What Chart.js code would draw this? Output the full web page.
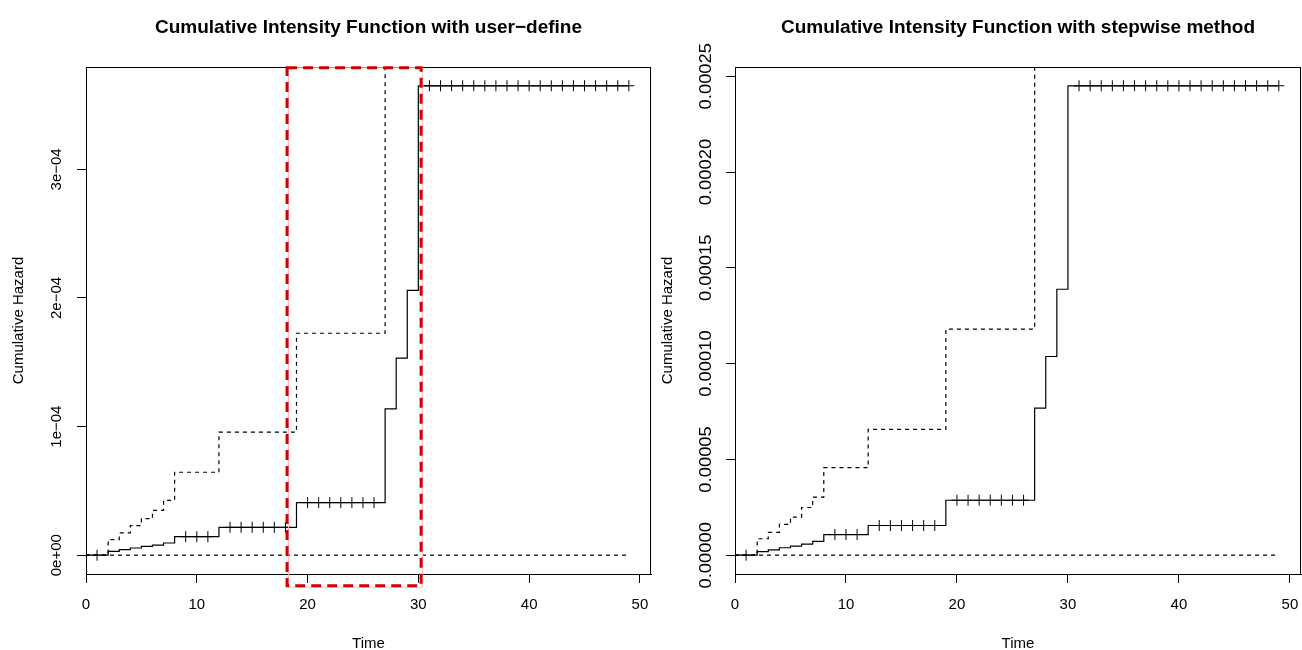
<!DOCTYPE html>
<html>
<head>
<meta charset="utf-8">
<script src="https://cdn.jsdelivr.net/npm/chart.js@4.4.1/dist/chart.umd.min.js"></script>
<style>
  html, body { margin: 0; padding: 0; background: #fff; }
  #wrap { position: relative; width: 1302px; height: 650px; }
  canvas { position: absolute; top: 0; }
</style>
</head>
<body>
<div id="wrap">
  <canvas id="userPanel" width="652" height="650" style="left:0"></canvas>
  <canvas id="stepPanel" width="651" height="650" style="left:651px"></canvas>
</div>
<script>
// ── data ──────────────────────────────────────────────────────
// event times where the estimate jumps (last entry = end of follow-up)
const eventTimes = [0, 2, 3, 4, 5, 6, 7, 8, 12, 19, 27, 28, 29, 30, 49];
const upperTimes = [0, 2, 3, 4, 5, 6, 7, 8, 12, 19, 27];
const lowerTimes = [0, 49];
const censorTimes = [1, 9, 10, 11, 13, 14, 15, 16, 17, 18,
                     20, 21, 22, 23, 24, 25, 26,
                     31, 32, 33, 34, 35, 36, 37, 38, 39, 40,
                     41, 42, 43, 44, 45, 46, 47, 48, 49];

// user-defined intensity
const userEstimate = [0, 3.0e-6, 4.3e-6, 5.6e-6, 6.9e-6, 7.9e-6, 9.5e-6, 1.44e-5,
                      2.17e-5, 4.09e-5, 1.138e-4, 1.532e-4, 2.06e-4, 3.65e-4, 3.65e-4];
const userUpper = [0, 1.21e-5, 1.73e-5, 2.30e-5, 2.84e-5, 3.49e-5, 4.27e-5, 6.45e-5,
                   9.57e-5, 1.726e-4, 6.0e-4];
const userLower = [0, 0];

// stepwise intensity
const stepEstimate = [0, 1.9e-6, 2.8e-6, 3.9e-6, 4.7e-6, 5.8e-6, 7.2e-6, 1.08e-5,
                      1.55e-5, 2.87e-5, 7.68e-5, 1.037e-4, 1.388e-4, 2.45e-4, 2.45e-4];
const stepUpper = [0, 8.6e-6, 1.19e-5, 1.61e-5, 1.99e-5, 2.49e-5, 3.03e-5, 4.57e-5,
                   6.57e-5, 1.18e-4, 4.0e-4];
const stepLower = [0, 0];

const xTicks = [0, 10, 20, 30, 40, 50];
const userYTicks = [0, 1e-4, 2e-4, 3e-4];
const userYLabels = ['0e+00', '1e\u221204', '2e\u221204', '3e\u221204'];
const stepYTicks = [0, 5e-5, 1e-4, 1.5e-4, 2e-4, 2.5e-4];
const stepYLabels = ['0.00000', '0.00005', '0.00010', '0.00015', '0.00020', '0.00025'];

// ── helpers ───────────────────────────────────────────────────
const FONT = '"Liberation Sans", Arial, Helvetica, sans-serif';
Chart.defaults.font.family = FONT;
Chart.defaults.color = '#000';

const pairs = (xs, ys) => xs.map((x, i) => ({ x, y: ys[i] }));

// value of a right-continuous step function at time t
function levelAt(times, values, t) {
  let v = values[0];
  for (let i = 0; i < times.length; i++) if (times[i] <= t) v = values[i];
  return v;
}

// box around the plot region, like R's bty="o"
const boxPlugin = {
  id: 'rBox',
  afterDatasetsDraw(chart) {
    const { ctx, chartArea: a } = chart;
    ctx.save();
    ctx.strokeStyle = '#000';
    ctx.lineWidth = 1;
    const l = Math.round(a.left) + 0.5, t = Math.round(a.top) + 0.5;
    const r = Math.round(a.right) - 0.5, b = Math.round(a.bottom) + 0.5;
    ctx.strokeRect(l, t, r - l, b - t);
    ctx.restore();
  }
};

// y tick labels written parallel to the axis
const yLabelPlugin = {
  id: 'yLabels',
  afterDraw(chart, args, opts) {
    const { ctx } = chart;
    const y = chart.scales.y;
    ctx.save();
    ctx.font = opts.size + 'px ' + FONT;
    ctx.fillStyle = '#000';
    ctx.textAlign = 'center';
    ctx.textBaseline = 'middle';
    opts.labels.forEach((txt, i) => {
      const py = y.getPixelForValue(opts.ticks[i]);
      ctx.save();
      ctx.translate(opts.x, py);
      ctx.rotate(-Math.PI / 2);
      ctx.scale(opts.stretch || 1, 1);
      ctx.fillText(txt, 0, 0);
      ctx.restore();
    });
    ctx.restore();
  }
};

// dashed red highlight rectangle (data coordinates)
const highlightPlugin = {
  id: 'highlight',
  afterDraw(chart, args, opts) {
    if (!opts.box) return;
    const { ctx, scales: { x, y } } = chart;
    const b = opts.box;
    const x0 = x.getPixelForValue(b.x0), x1 = x.getPixelForValue(b.x1);
    const y0 = y.getPixelForValue(b.y0), y1 = y.getPixelForValue(b.y1);
    ctx.save();
    ctx.strokeStyle = '#f6c2c2';
    ctx.lineWidth = 1;
    ctx.strokeRect(x0 + 1.5, y1, x1 - x0, y0 - y1 + 1.5);
    ctx.strokeStyle = '#d00000';
    ctx.lineWidth = 3;
    ctx.setLineDash([10, 6]);
    ctx.strokeRect(x0, y1, x1 - x0, y0 - y1);
    ctx.restore();
  }
};

function makePanel(id, o) {
  const lineStyle = { borderColor: '#000', borderWidth: 1.2, pointRadius: 0, fill: false };
  return new Chart(document.getElementById(id), {
    type: 'line',
    data: {
      datasets: [
        { ...lineStyle, data: pairs(eventTimes, o.estimate), stepped: 'before' },
        { ...lineStyle, data: pairs(upperTimes, o.upper), stepped: 'before', borderDash: [4, 4] },
        { ...lineStyle, data: pairs(lowerTimes, o.lower), borderDash: [4, 4] },
        {
          data: censorTimes.map(t => ({ x: t, y: levelAt(eventTimes, o.estimate, t) })),
          showLine: false, pointStyle: 'cross', pointRadius: 5.5,
          borderColor: '#000', borderWidth: 1
        }
      ]
    },
    options: {
      responsive: false,
      animation: false,
      events: [],
      layout: { autoPadding: false, padding: { left: 0, right: 1, top: 0, bottom: 0 } },
      plugins: {
        legend: { display: false },
        tooltip: { enabled: false },
        title: {
          display: true, text: o.title, fullSize: false, color: '#000',
          font: { size: 19, weight: 'bold' },
          padding: { top: 16, bottom: 28.2 }
        },
        yLabels: { ticks: o.yTicks, labels: o.yLabels, x: o.labelX, size: o.labelSize, stretch: o.labelStretch },
        highlight: { box: o.highlight || null }
      },
      scales: {
        x: {
          type: 'linear', min: 0, max: 51,
          afterBuildTicks: s => { s.ticks = xTicks.map(v => ({ value: v })); },
          afterFit: s => { s.height = 76; s.paddingLeft = 0; s.paddingRight = 0; },
          border: { display: true, color: '#000', width: 1 },
          grid: { drawOnChartArea: false, drawTicks: true, tickLength: 9, color: '#000' },
          ticks: { font: { size: 15 }, color: '#000', padding: 13, maxRotation: 0 },
          title: { display: true, text: 'Time', font: { size: 15 }, color: '#000', padding: { top: 0, bottom: -3 } }
        },
        y: {
          type: 'linear', min: o.yMin, max: o.yMax,
          afterBuildTicks: s => { s.ticks = o.yTicks.map(v => ({ value: v })); },
          afterFit: s => { s.width = o.axisWidth; s.paddingTop = 0; s.paddingBottom = 0; },
          border: { display: true, color: '#000', width: 1 },
          grid: { drawOnChartArea: false, drawTicks: true, tickLength: 9, color: '#000' },
          ticks: { display: false },
          title: { display: true, text: 'Cumulative Hazard', font: { size: 15 }, color: '#000', padding: { top: o.titlePad, bottom: 0 } }
        }
      }
    },
    plugins: [boxPlugin, yLabelPlugin, highlightPlugin]
  });
}

makePanel('userPanel', {
  title: 'Cumulative Intensity Function with user\u2212define',
  estimate: userEstimate, upper: userUpper, lower: userLower,
  yMin: -1.46e-5, yMax: 3.796e-4,
  yTicks: userYTicks, yLabels: userYLabels,
  axisWidth: 86, labelX: 57, labelSize: 15, titlePad: 10,
  highlight: { x0: 18.15, x1: 30.25, y0: -2.38e-5, y1: 3.79e-4 }
});

makePanel('stepPanel', {
  title: 'Cumulative Intensity Function with stepwise method',
  estimate: stepEstimate, upper: stepUpper, lower: stepLower,
  yMin: -0.98e-5, yMax: 2.548e-4,
  yTicks: stepYTicks, yLabels: stepYLabels,
  axisWidth: 84, labelX: 56, labelSize: 16, labelStretch: 1.15, titlePad: 8
});
</script>
</body>
</html>
